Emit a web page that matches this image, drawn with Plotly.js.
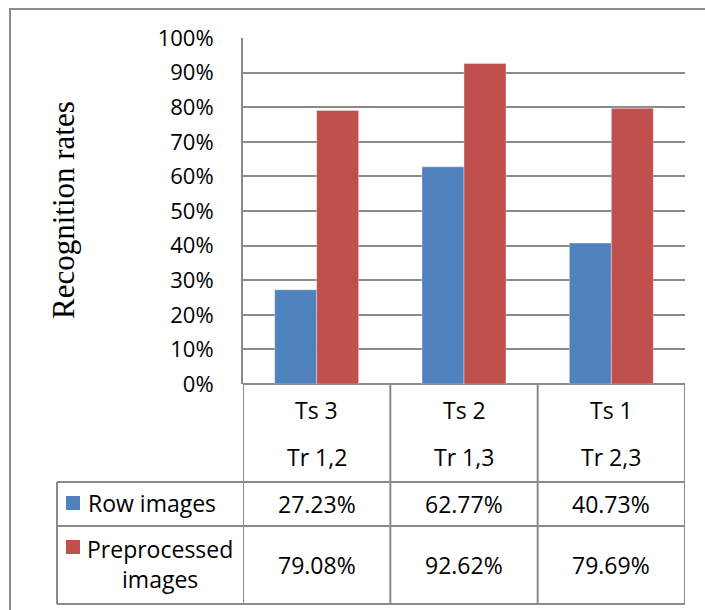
<!DOCTYPE html>
<html>
<head>
<meta charset="utf-8">
<script src="https://cdn.plot.ly/plotly-3.0.1.min.js"></script>
<style>
  html, body { margin: 0; padding: 0; background: #fff; }
  #chart { width: 705px; height: 610px; }
</style>
</head>
<body>
<div id="chart"></div>
<script>
// Test / training set combinations (two header lines of the data table)
const testSets = ['Ts 3', 'Ts 2', 'Ts 1'];
const trainSets = ['Tr 1,2', 'Tr 1,3', 'Tr 2,3'];
const categories = testSets.map((t, i) => t + ' / ' + trainSets[i]);

// Recognition rates in percent
const seriesNames = ['Row images', 'Preprocessed images'];
const rowImages = [27.23, 62.77, 40.73];
const preprocessed = [79.08, 92.62, 79.69];
const seriesValues = [rowImages, preprocessed];
const seriesColors = ['#4F81BD', '#C0504D'];

const yTickValues = [0, 10, 20, 30, 40, 50, 60, 70, 80, 90, 100];

// plot area geometry (pixels)
const W = 705, H = 610;
const M = { l: 243, r: 20, t: 38, b: 226 };
const plotW = W - M.l - M.r;
const plotH = H - M.t - M.b;
const px2x = p => (p - M.l) / plotW;          // pixel -> paper x
const py2y = p => (H - M.b - p) / plotH;      // pixel -> paper y

const lineColor = '#8a8a8a';
const textFamily = 'Open Sans';
const tableFont = { family: textFamily, size: 23, color: '#000' };

const traces = seriesValues.map((vals, s) => ({
  type: 'bar',
  name: seriesNames[s],
  x: categories,
  y: vals,
  marker: { color: seriesColors[s], line: { color: 'rgba(255,255,255,0.35)', width: 1 } },
  hoverinfo: 'skip'
}));

const shapes = [];
const annotations = [];

// outer chart border
shapes.push({ type: 'rect', xref: 'paper', yref: 'paper',
  x0: px2x(10), x1: px2x(712), y0: py2y(618), y1: py2y(9),
  line: { color: lineColor, width: 2 } });

// data table rows (pixel y of horizontal rules)
const headerTop = H - M.b, rowTop1 = 482, rowTop2 = 526, tableBottom = 604;
const legendLeft = 57;

// vertical rules at category boundaries
for (let i = 0; i <= categories.length; i++) {
  shapes.push({ type: 'line', xref: 'x', yref: 'paper',
    x0: i - 0.5, x1: i - 0.5, y0: py2y(headerTop), y1: py2y(tableBottom),
    line: { color: lineColor, width: 2 } });
}
// left edge of the legend column
shapes.push({ type: 'line', xref: 'paper', yref: 'paper',
  x0: px2x(legendLeft), x1: px2x(legendLeft), y0: py2y(rowTop1), y1: py2y(tableBottom),
  line: { color: lineColor, width: 2 } });
// horizontal rules
[rowTop1, rowTop2, tableBottom].forEach(py => {
  shapes.push({ type: 'line', xref: 'paper', yref: 'paper',
    x0: px2x(legendLeft), x1: 1, y0: py2y(py), y1: py2y(py),
    line: { color: lineColor, width: 2 } });
});

// header cells
categories.forEach((c, i) => {
  annotations.push({ xref: 'x', yref: 'paper', x: c, y: py2y(410), text: testSets[i],
    showarrow: false, font: tableFont, xanchor: 'center', yanchor: 'middle' });
  annotations.push({ xref: 'x', yref: 'paper', x: c, y: py2y(457), text: trainSets[i],
    showarrow: false, font: tableFont, xanchor: 'center', yanchor: 'middle' });
});

// value cells + legend keys
const rowCenters = [504, 565];
const keyCenters = [503, 547];
seriesValues.forEach((vals, s) => {
  vals.forEach((v, i) => {
    annotations.push({ xref: 'x', yref: 'paper', x: categories[i], y: py2y(rowCenters[s]),
      text: v.toFixed(2) + '%', showarrow: false, font: tableFont,
      xanchor: 'center', yanchor: 'middle' });
  });
  shapes.push({ type: 'rect', xref: 'paper', yref: 'paper',
    x0: px2x(66), x1: px2x(80), y0: py2y(keyCenters[s] + 7), y1: py2y(keyCenters[s] - 7),
    fillcolor: seriesColors[s], line: { width: 0 } });
});
annotations.push({ xref: 'paper', yref: 'paper', x: px2x(86), y: py2y(503),
  text: 'Row images', showarrow: false, font: tableFont, xanchor: 'left', yanchor: 'middle' });
annotations.push({ xref: 'paper', yref: 'paper', x: px2x(160), y: py2y(564),
  text: 'Preprocessed<br>images', showarrow: false, font: tableFont,
  xanchor: 'center', yanchor: 'middle', align: 'center' });

// vertical axis title
annotations.push({ xref: 'paper', yref: 'paper', x: px2x(63), y: py2y(210),
  text: 'Recognition rates', textangle: -90, showarrow: false,
  font: { family: 'Liberation Serif', size: 31, color: '#000' },
  xanchor: 'center', yanchor: 'middle' });

const layout = {
  width: W, height: H,
  margin: M,
  paper_bgcolor: '#fff', plot_bgcolor: '#fff',
  showlegend: false,
  barmode: 'group',
  bargap: 0.43,
  bargroupgap: 0,
  xaxis: {
    type: 'category',
    range: [-0.5, 2.5],
    showticklabels: false,
    ticks: '',
    showgrid: false,
    zeroline: false,
    showline: false,
    fixedrange: true
  },
  yaxis: {
    range: [0, 100],
    tickvals: yTickValues,
    ticktext: yTickValues.map(v => v + '%'),
    ticks: '',
    ticklabelstandoff: 23,
    tickfont: { family: textFamily, size: 22, color: '#000' },
    showgrid: true,
    gridcolor: lineColor,
    gridwidth: 2,
    zeroline: true,
    zerolinecolor: lineColor,
    zerolinewidth: 2,
    showline: true,
    linecolor: lineColor,
    linewidth: 2,
    fixedrange: true
  },
  shapes: shapes,
  annotations: annotations
};

Plotly.newPlot('chart', traces, layout, { displayModeBar: false, staticPlot: true });
</script>
</body>
</html>
